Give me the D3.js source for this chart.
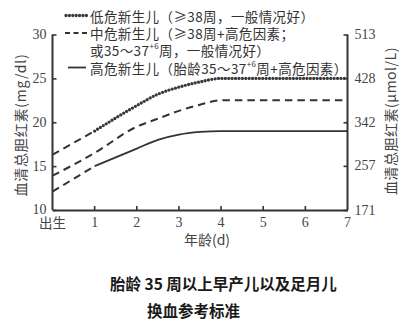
<!DOCTYPE html>
<html>
<head>
<meta charset="utf-8">
<script src="https://cdn.jsdelivr.net/npm/d3@7/dist/d3.min.js"></script>
<style>
  html, body { margin: 0; padding: 0; background: #fff; }
  svg { display: block; }
  .cjk { font-family: "Noto Sans CJK SC", "Noto Sans", sans-serif; }
  .num { font-family: "Liberation Serif", "DejaVu Serif", serif; }
</style>
</head>
<body>
<svg id="chart" width="402" height="326"></svg>
<script>
// Exchange-transfusion thresholds (mg/dl) by postnatal age in days
const dayTicks = [0, 1, 2, 3, 4, 5, 6, 7];
const dayTickLabels = ["出生", "1", "2", "3", "4", "5", "6", "7"];
const mgTicks = [10, 15, 20, 25, 30];
const umolTicks = [171, 257, 342, 428, 513];

// values from day 1 onward
const lowRiskDays  = [1, 2, 2.5, 3, 3.5, 4, 5, 6, 7];
const lowRisk      = [19, 21.9, 23.2, 24.0, 24.6, 25, 25, 25, 25];
const midRiskDays  = [1, 2, 2.5, 3, 3.5, 4, 5, 6, 7];
const midRisk      = [16.5, 19.5, 20.4, 21.3, 22.0, 22.5, 22.5, 22.5, 22.5];
const highRiskDays = [1, 2, 2.5, 3, 3.5, 4, 5, 6, 7];
const highRisk     = [15, 17, 18, 18.6, 18.9, 19, 19, 19, 19];
// value at birth (extended back to birth as a dashed segment)
const birthValues  = [16.3, 13.9, 12.1];

const legendLabels = [
  "低危新生儿（≥38周，一般情况好）",
  "中危新生儿（≥38周+高危因素；",
  "高危新生儿（胎龄35～37",
];

const svg = d3.select("#chart");
const ink = "#333";

const x = d3.scaleLinear().domain([0, 7]).range([52.5, 347.5]);
const y = d3.scaleLinear().domain([10, 30]).range([210, 34.5]);
const yR = d3.scaleLinear().domain([171, 513]).range([210, 34.5]);

// axes
const axisBottom = d3.axisBottom(x).tickValues(dayTicks).tickSize(0).tickFormat("");
const gx = svg.append("g").attr("transform", `translate(0,${y(10)})`).call(axisBottom);
gx.select(".domain").attr("stroke", ink).attr("stroke-width", 2);
// inward ticks on the day axis
svg.append("g").selectAll("line").data(dayTicks.slice(1, 7)).join("line")
  .attr("x1", d => x(d)).attr("x2", d => x(d))
  .attr("y1", y(10)).attr("y2", y(10) - 4)
  .attr("stroke", ink).attr("stroke-width", 1.6);
svg.append("g").selectAll("text").data(dayTicks).join("text")
  .attr("class", (d, i) => i === 0 ? "cjk" : "num")
  .attr("x", d => x(d)).attr("y", 222)
  .attr("text-anchor", "middle").attr("dominant-baseline", "central")
  .attr("font-size", (d, i) => i === 0 ? 13.5 : 14).attr("fill", "#444")
  .text((d, i) => dayTickLabels[i]);

const axisLeft = d3.axisLeft(y).tickValues(mgTicks).tickSize(-4).tickFormat("");
const gl = svg.append("g").attr("transform", `translate(${x(0)},0)`).call(axisLeft);
gl.select(".domain").attr("stroke", ink).attr("stroke-width", 2).attr("d", `M0,${y(30)}V${y(10)}`);
gl.selectAll(".tick line").attr("stroke", ink).attr("stroke-width", 1.6);
svg.append("g").selectAll("text").data(mgTicks).join("text")
  .attr("class", "num")
  .attr("x", 46.5).attr("y", d => y(d) - (d === 10 ? 1 : 0))
  .attr("text-anchor", "end").attr("dominant-baseline", "central")
  .attr("font-size", 14).attr("fill", "#444")
  .text(d => d);

const axisRight = d3.axisRight(yR).tickValues(umolTicks).tickSize(-4).tickFormat("");
const gr = svg.append("g").attr("transform", `translate(${x(7)},0)`).call(axisRight);
gr.select(".domain").attr("stroke", ink).attr("stroke-width", 2).attr("d", `M0,${yR(513)}V${yR(171)}`);
gr.selectAll(".tick line").attr("stroke", ink).attr("stroke-width", 1.6);
svg.append("g").selectAll("text").data(umolTicks).join("text")
  .attr("class", "num")
  .attr("x", 354.5).attr("y", d => yR(d))
  .attr("text-anchor", "start").attr("dominant-baseline", "central")
  .attr("font-size", 14).attr("fill", "#444")
  .text(d => d);

// axis titles
svg.append("text").attr("class", "cjk")
  .attr("transform", `translate(20,125) rotate(-90)`)
  .attr("text-anchor", "middle").attr("dominant-baseline", "central")
  .attr("font-size", 14).attr("letter-spacing", 0.8).attr("fill", "#444")
  .text("血清总胆红素(mg/dl)");
svg.append("text").attr("class", "cjk")
  .attr("transform", `translate(390,121) rotate(-90)`)
  .attr("text-anchor", "middle").attr("dominant-baseline", "central")
  .attr("font-size", 14).attr("letter-spacing", 0.5).attr("fill", "#444")
  .text("血清总胆红素(μmol/L)");
svg.append("text").attr("class", "cjk")
  .attr("x", 207).attr("y", 239)
  .attr("text-anchor", "middle").attr("dominant-baseline", "central")
  .attr("font-size", 14).attr("fill", "#444")
  .text("年龄(d)");

// curves
const line = d3.line().x(d => x(d[0])).y(d => y(d[1])).curve(d3.curveMonotoneX);
const dashStyle = "7.5,5";
const dotStyle = "0,3.4";
const dotInk = "#3a3a3a";

const series = [
  { days: lowRiskDays, vals: lowRisk, birth: birthValues[0], style: "dot" },
  { days: midRiskDays, vals: midRisk, birth: birthValues[1], style: "dash" },
  { days: highRiskDays, vals: highRisk, birth: birthValues[2], style: "solid" },
];

series.forEach(s => {
  const pts = s.days.map((d, i) => [d, s.vals[i]]);
  if (s.style === "dash") {
    svg.append("path").datum([[0, s.birth], ...pts])
      .attr("d", line).attr("fill", "none")
      .attr("stroke", ink).attr("stroke-width", 2).attr("stroke-dasharray", dashStyle);
    return;
  }
  // dashed lead-in from birth to day 1
  svg.append("path").datum([[0, s.birth], pts[0]])
    .attr("d", d3.line().x(d => x(d[0])).y(d => y(d[1])))
    .attr("fill", "none").attr("stroke", ink).attr("stroke-width", 2)
    .attr("stroke-dasharray", dashStyle);
  const p = svg.append("path").datum(pts).attr("d", line).attr("fill", "none");
  if (s.style === "dot") {
    p.attr("stroke", dotInk).attr("stroke-width", 3.3)
      .attr("stroke-linecap", "round").attr("stroke-dasharray", dotStyle);
  } else {
    p.attr("stroke", ink).attr("stroke-width", 1.8);
  }
});

// legend
const lg = svg.append("g");
lg.append("line").attr("x1", 66).attr("x2", 87).attr("y1", 15.5).attr("y2", 15.5)
  .attr("stroke", dotInk).attr("stroke-width", 3.3)
  .attr("stroke-linecap", "round").attr("stroke-dasharray", dotStyle);
lg.append("line").attr("x1", 65).attr("x2", 87).attr("y1", 33).attr("y2", 33)
  .attr("stroke", ink).attr("stroke-width", 2).attr("stroke-dasharray", "5,3.5");
lg.append("line").attr("x1", 68).attr("x2", 86).attr("y1", 67.5).attr("y2", 67.5)
  .attr("stroke", ink).attr("stroke-width", 1.8);

const legendText = (yPos) => lg.append("text").attr("class", "cjk")
  .attr("x", 90).attr("y", yPos).attr("dominant-baseline", "central")
  .attr("font-size", 13.5).attr("letter-spacing", 0.4).attr("fill", "#333");

legendText(16).text(legendLabels[0]);
legendText(33).text(legendLabels[1]);
const t3 = legendText(50);
t3.append("tspan").text("或35～37");
t3.append("tspan").attr("font-size", 8).attr("dy", -5).text("+6");
t3.append("tspan").attr("dy", 5).text("周，一般情况好）");
const t4 = legendText(68);
t4.append("tspan").text(legendLabels[2]);
t4.append("tspan").attr("font-size", 8).attr("dy", -5).text("+6");
t4.append("tspan").attr("dy", 5).text("周+高危因素）");

// caption
svg.append("text").attr("class", "cjk")
  .attr("x", 110).attr("y", 283).attr("dominant-baseline", "central")
  .attr("font-size", 15.5).attr("font-weight", "bold").attr("fill", "#1a1a1a")
  .text("胎龄 35 周以上早产儿以及足月儿");
svg.append("text").attr("class", "cjk")
  .attr("x", 147).attr("y", 310).attr("dominant-baseline", "central")
  .attr("font-size", 15.5).attr("font-weight", "bold").attr("fill", "#1a1a1a")
  .text("换血参考标准");
</script>
</body>
</html>
